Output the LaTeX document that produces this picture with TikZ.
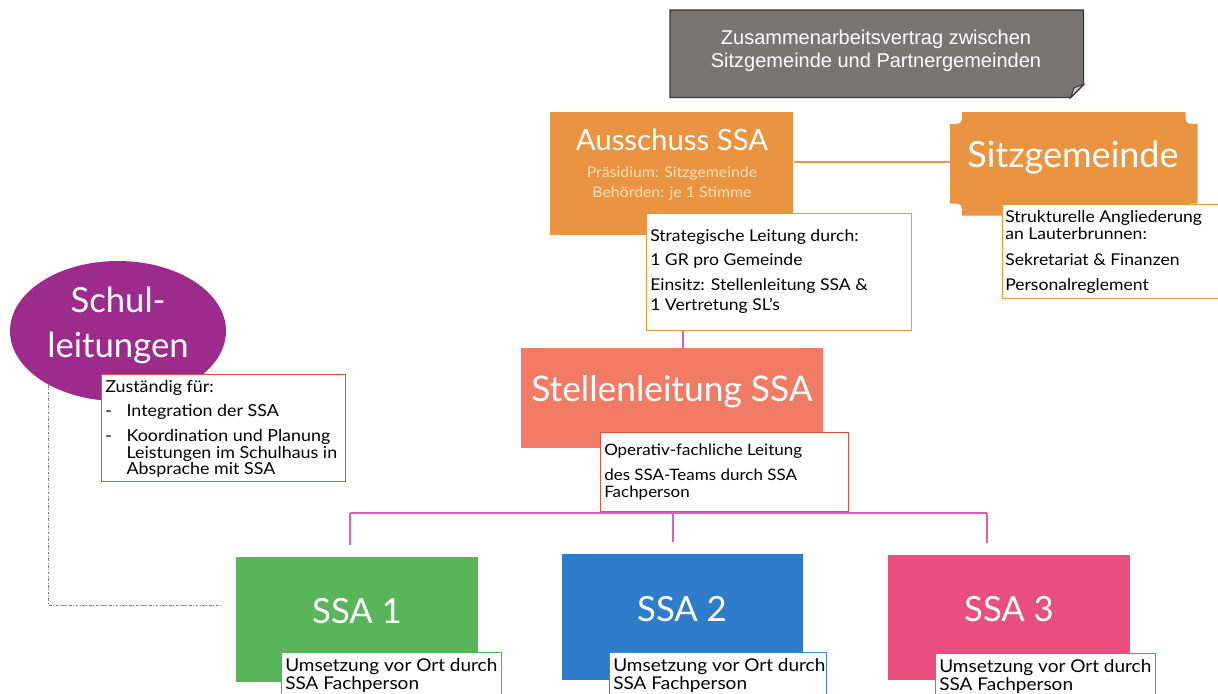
\documentclass[tikz,border=0pt]{standalone}
\usepackage{fontspec}
\setmainfont{Lato}
\newfontfamily\bodyf{Lato}[FakeStretch=1.08]
\newfontfamily\arialf{Liberation Sans}
\usetikzlibrary{shapes.geometric}
\pgfdeclarelayer{background}
\pgfsetlayers{background,main}
\definecolor{orng}{HTML}{EA9442}
\definecolor{orngline}{HTML}{EE9540}
\definecolor{peach}{HTML}{FBE2BE}
\definecolor{salmon}{HTML}{F27B66}
\definecolor{redline}{HTML}{E8503E}
\definecolor{grn}{HTML}{58B55A}
\definecolor{grnline}{HTML}{4DB84F}
\definecolor{blu}{HTML}{2F7CCB}
\definecolor{bluline}{HTML}{3A88D6}
\definecolor{pnk}{HTML}{EA4E7E}
\definecolor{pnkline}{HTML}{E0508A}
\definecolor{purp}{HTML}{9C2B8C}
\definecolor{gry}{HTML}{7A7571}
\definecolor{gryline}{HTML}{3A3836}
\definecolor{magline}{HTML}{E05DB5}
\definecolor{dotgray}{HTML}{7A7A7A}
\tikzset{
  fillbox/.style={rectangle, inner sep=0pt, draw=none},
  txtbox/.style={rectangle, inner sep=0pt, fill=white, line width=1pt},
  bodytxt/.style={inner sep=0pt, anchor=north west, align=left, text=black},
  titletxt/.style={inner sep=0pt, text=white},
  magconn/.style={draw=magline, line width=1.2pt},
  dotline/.style={draw=dotgray, line width=0.6pt, dash pattern=on 2pt off 1.2pt on 0.6pt off 1.2pt}
}
\begin{document}
\begin{tikzpicture}[x=0.75pt,y=-0.75pt]
\useasboundingbox (0,0) rectangle (1218,693);

% ---- contract box (grey, folded corner)
\node[fillbox, minimum width=309.75pt, minimum height=65.25pt, anchor=north west] (vertrag) at (670,10) {};
\fill[gry, draw=gryline, line width=1pt] (vertrag.north west) -- (vertrag.north east) -- ([yshift=9.75pt]vertrag.south east) -- ([xshift=-9.75pt]vertrag.south east) -- (vertrag.south west) -- cycle;
\fill[gray!40, draw=gryline, line width=0.8pt] ([xshift=-9.75pt]vertrag.south east) -- ([xshift=-7pt,yshift=7.5pt]vertrag.south east) -- ([yshift=9.75pt]vertrag.south east) -- cycle;
\node[titletxt, align=center, font=\arialf\fontsize{15}{17.25}\selectfont] (vertragtxt) at (876,51) {Zusammenarbeitsvertrag zwischen\\Sitzgemeinde und Partnergemeinden};

% ---- Ausschuss SSA
\node[fillbox, fill=orng, minimum width=182.25pt, minimum height=92.25pt, anchor=north west] (aus) at (550,112) {};
\node[titletxt, font=\fontsize{22}{26}\selectfont] (austitle) at (672,140) {Ausschuss SSA};
\node[titletxt, text=peach, align=center, font=\bodyf\fontsize{11}{15}\selectfont] (aussub) at (672,183) {Präsidium: Sitzgemeinde\\Behörden: je 1 Stimme};

% ---- Sitzgemeinde plaque
\node[fillbox, minimum width=185.25pt, minimum height=77.25pt, anchor=north west] (sitz) at (950,112) {};
\fill[orng] ([xshift=9pt]sitz.north west) -- ([xshift=-9pt]sitz.north east)
  .. controls ([xshift=-9pt,yshift=-9pt]sitz.north east) .. ([yshift=-9pt]sitz.north east)
  -- ([yshift=9pt]sitz.south east)
  .. controls ([xshift=-9pt,yshift=9pt]sitz.south east) .. ([xshift=-9pt]sitz.south east)
  -- ([xshift=9pt]sitz.south west)
  .. controls ([xshift=9pt,yshift=9pt]sitz.south west) .. ([yshift=9pt]sitz.south west)
  -- ([yshift=-9pt]sitz.north west)
  .. controls ([xshift=9pt,yshift=-9pt]sitz.north west) .. ([xshift=9pt]sitz.north west) -- cycle;
\node[titletxt, font=\fontsize{27}{30}\selectfont] (sitztitle) at (1073,158) {Sitzgemeinde};

% ---- Strategische Leitung box
\node[txtbox, draw=orngline, minimum width=198.75pt, minimum height=87.75pt, anchor=north west] (strat) at (646,213) {};
\node[bodytxt, font=\bodyf\fontsize{12.2}{15}\selectfont] (strattxt) at (650,229) {Strategische Leitung durch:\\[3pt]1 GR pro Gemeinde\\[3.75pt]Einsitz: Stellenleitung SSA \&\\1 Vertretung SL’s};

% ---- Sitzgemeinde text box
\node[txtbox, draw=orngline, minimum width=172pt, minimum height=70.5pt, anchor=north west] (sitzbox) at (1002,204) {};
\node[bodytxt, font=\bodyf\fontsize{12.2}{12.75}\selectfont] (sitztxt) at (1005,210) {Strukturelle Angliederung\\an Lauterbrunnen:\\[6.75pt]Sekretariat \& Finanzen\\[6pt]Personalreglement};

% ---- Stellenleitung SSA
\node[fillbox, fill=salmon, minimum width=226.5pt, minimum height=75pt, anchor=north west] (stellen) at (521,348) {};
\node[titletxt, font=\fontsize{26.5}{30}\selectfont] (stellentitle) at (672,392) {Stellenleitung SSA};
\node[txtbox, draw=redline, minimum width=186pt, minimum height=59.25pt, anchor=north west] (oper) at (600,432) {};
\node[bodytxt, font=\bodyf\fontsize{11.8}{12.75}\selectfont] (opertxt) at (604,444) {Operativ-fachliche Leitung\\[6pt]des SSA-Teams durch SSA\\Fachperson};

% ---- Schulleitungen
\node[ellipse, fill=purp, inner sep=0pt, minimum width=162pt, minimum height=105pt] (schul) at (118,331) {};
\node[titletxt, align=center, font=\fontsize{26}{33.75}\selectfont] (schultxt) at (118,325) {Schul-\\leitungen};
\node[txtbox, draw=redline, minimum width=183pt, minimum height=80pt, anchor=north west] (zust) at (101,374) {};
\node[bodytxt, font=\bodyf\fontsize{12.4}{12.5}\selectfont] (zusttxt) at (105,380) {Zuständig für:\\[5.5pt]\makebox[16pt][l]{-}Integration der SSA\\[6.25pt]\makebox[16pt][l]{-}Koordination und Planung\\\hspace*{16pt}Leistungen im Schulhaus in\\\hspace*{16pt}Absprache mit SSA};

% ---- SSA 1..3
\node[fillbox, fill=grn, minimum width=181.5pt, minimum height=93.75pt, anchor=north west] (ssa1) at (236,557) {};
\node[titletxt, font=\fontsize{26}{30}\selectfont] (ssa1title) at (357,611) {SSA 1};
\node[txtbox, draw=grnline, minimum width=165pt, minimum height=40pt, anchor=north west] (ssa1box) at (281,652) {};
\node[bodytxt, font=\bodyf\fontsize{13.2}{13.5}\selectfont] (ssa1txt) at (285,658) {Umsetzung vor Ort durch\\SSA Fachperson};

\node[fillbox, fill=blu, minimum width=180.75pt, minimum height=94.5pt, anchor=north west] (ssa2) at (562,554) {};
\node[titletxt, font=\fontsize{26}{30}\selectfont] (ssa2title) at (682,609) {SSA 2};
\node[txtbox, draw=bluline, minimum width=162.75pt, minimum height=40pt, anchor=north west] (ssa2box) at (609,652) {};
\node[bodytxt, font=\bodyf\fontsize{13.2}{13.5}\selectfont] (ssa2txt) at (613,658) {Umsetzung vor Ort durch\\SSA Fachperson};

\node[fillbox, fill=pnk, minimum width=181.5pt, minimum height=93.75pt, anchor=north west] (ssa3) at (888,555) {};
\node[titletxt, font=\fontsize{26}{30}\selectfont] (ssa3title) at (1009,609) {SSA 3};
\node[txtbox, draw=pnkline, minimum width=165pt, minimum height=40pt, anchor=north west] (ssa3box) at (935,653) {};
\node[bodytxt, font=\bodyf\fontsize{13.2}{13.5}\selectfont] (ssa3txt) at (939,659) {Umsetzung vor Ort durch\\SSA Fachperson};

% ---- connectors
\coordinate (lvlA) at (0,162);
\coordinate (vx) at (683,0);
\coordinate (b1) at (350,513);
\coordinate (b2) at (673,513);
\coordinate (b3) at (987,513);
\coordinate (dl) at (0,605);
\begin{pgfonlayer}{background}
\draw[draw=orngline, line width=1.5pt] (aus.east |- lvlA) -- (sitz.west |- lvlA);
\draw[magconn] (strat.south -| vx) -- (stellen.north -| vx);
\draw[magconn] (stellen.south -| b2) -- (b2);
\draw[magconn] (b1) -- (b3);
\draw[magconn, shorten >=9pt] (b1) -- (ssa1.north -| b1);
\draw[magconn, shorten >=9pt] (b2) -- (ssa2.north -| b2);
\draw[magconn, shorten >=9pt] (b3) -- (ssa3.north -| b3);
\draw[dotline, shorten >=10.5pt] (schul.218) |- (ssa1.west |- dl);
\end{pgfonlayer}
\end{tikzpicture}
\end{document}
